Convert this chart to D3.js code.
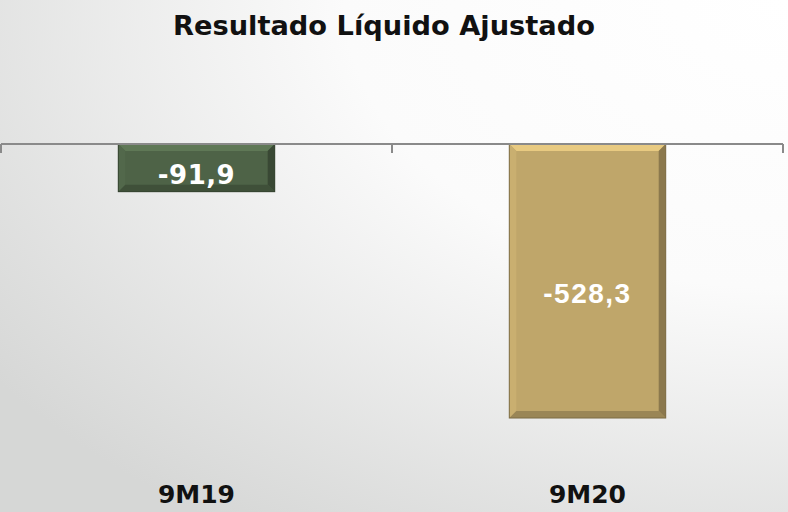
<!DOCTYPE html>
<html lang="pt">
<head>
    <meta charset="UTF-8">
    <title>Resultado Líquido Ajustado</title>
    <script src="https://cdn.jsdelivr.net/npm/d3@7"></script>
    <style>
        html, body { margin: 0; padding: 0; }
        svg { display: block; }
    </style>
</head>
<body>
<script>
    const categories = ['9M19', '9M20']
    const values = [-91.9, -528.3]
    const valueLabels = ['-91,9', '-528,3']
    const colors = ['#4e6347', '#bfa66a']

    const [width, height] = [788, 512]
    const svg = d3.select('body').append('svg')
        .attr('width', width)
        .attr('height', height)

    // fundo em degradê
    const defs = svg.append('defs')
    const bg = defs.append('radialGradient').attr('id', 'bg')
        .attr('cx', '100%').attr('cy', '0%').attr('r', '125%')
    bg.append('stop').attr('offset', '0%').attr('stop-color', '#ffffff')
    bg.append('stop').attr('offset', '45%').attr('stop-color', '#fbfbfb')
    bg.append('stop').attr('offset', '100%').attr('stop-color', '#d6d7d6')
    svg.append('rect').attr('width', width).attr('height', height).attr('fill', 'url(#bg)')

    const x = d3.scaleBand().domain(categories).range([1, 783])
        .paddingInner(0.6).paddingOuter(0.3)
    const y = d3.scaleLinear().domain([-600, 0]).range([455.2, 144])

    // barras com efeito chanfrado
    const bevel = 7
    const g = svg.append('g')
    categories.forEach((c, i) => {
        const x0 = x(c), x1 = x(c) + x.bandwidth()
        const y0 = y(0), y1 = y(values[i])
        const base = d3.color(colors[i])
        const bar = g.append('g')
        bar.append('rect').attr('x', x0).attr('y', y0)
            .attr('width', x1 - x0).attr('height', y1 - y0)
            .attr('fill', base)
        const poly = (pts, fill) => bar.append('polygon')
            .attr('points', pts.map(p => p.join(',')).join(' '))
            .attr('fill', fill)
        poly([[x0, y0], [x1, y0], [x1 - bevel, y0 + bevel], [x0 + bevel, y0 + bevel]], base.brighter(0.55))
        poly([[x0, y0], [x0 + bevel, y0 + bevel], [x0 + bevel, y1 - bevel], [x0, y1]], base.brighter(0.15))
        poly([[x1, y0], [x1, y1], [x1 - bevel, y1 - bevel], [x1 - bevel, y0 + bevel]], base.darker(0.9))
        poly([[x0, y1], [x0 + bevel, y1 - bevel], [x1 - bevel, y1 - bevel], [x1, y1]], base.darker(0.6))
        bar.append('rect').attr('x', x0).attr('y', y0)
            .attr('width', x1 - x0).attr('height', y1 - y0)
            .attr('fill', 'none').attr('stroke', base.darker(1.2)).attr('stroke-width', 1)
    })

    // eixo
    svg.append('line')
        .attr('x1', x.range()[0]).attr('x2', x.range()[1])
        .attr('y1', y(0)).attr('y2', y(0))
        .attr('stroke', '#8a8a8a').attr('stroke-width', 2)
    const ticks = [x.range()[0]].concat(categories.map(c => x(c) - x.step() * x.paddingOuter() + x.step()))
    svg.selectAll('line.tick').data(ticks).enter().append('line')
        .attr('class', 'tick')
        .attr('x1', d => d).attr('x2', d => d)
        .attr('y1', y(0)).attr('y2', y(0) + 9)
        .attr('stroke', '#8a8a8a').attr('stroke-width', 2)

    // rótulos de valor
    svg.selectAll('text.value').data(values).enter().append('text')
        .attr('class', 'value')
        .attr('x', (d, i) => x(categories[i]) + x.bandwidth() / 2)
        .attr('y', (d, i) => (y(0) + y(d)) / 2 + 16 + i * 6)
        .attr('text-anchor', 'middle')
        .attr('fill', '#ffffff')
        .attr('font-family', (d, i) => i === 0 ? '"DejaVu Sans", sans-serif' : '"Liberation Sans", Arial, sans-serif')
        .attr('font-weight', 'bold')
        .attr('font-size', (d, i) => i === 0 ? 26 : 28)
        .attr('letter-spacing', (d, i) => i === 0 ? 0.5 : 1.5)
        .text((d, i) => valueLabels[i])

    // categorias
    svg.selectAll('text.cat').data(categories).enter().append('text')
        .attr('class', 'cat')
        .attr('x', d => x(d) + x.bandwidth() / 2)
        .attr('y', 503)
        .attr('text-anchor', 'middle')
        .attr('fill', '#111111')
        .attr('font-family', '"DejaVu Sans", sans-serif')
        .attr('font-weight', 'bold')
        .attr('font-size', 25)
        .text(d => d)

    // título
    svg.append('text')
        .attr('x', 384).attr('y', 35)
        .attr('text-anchor', 'middle')
        .attr('fill', '#111111')
        .attr('font-family', '"DejaVu Sans", sans-serif')
        .attr('font-weight', 'bold')
        .attr('font-size', 26)
        .attr('textLength', 422)
        .attr('lengthAdjust', 'spacingAndGlyphs')
        .text('Resultado Líquido Ajustado')
</script>
</body>
</html>
